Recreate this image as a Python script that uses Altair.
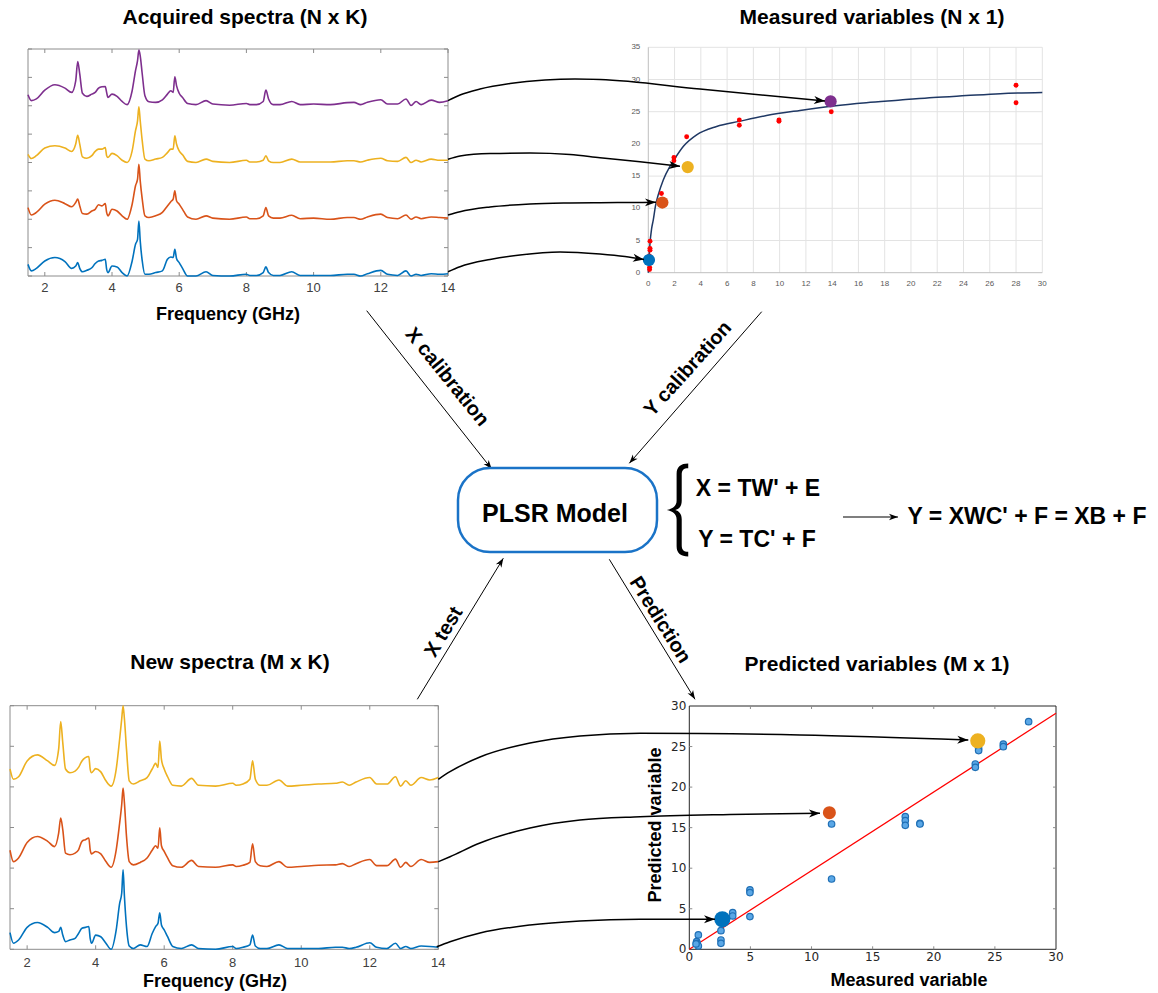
import math
import altair as alt
import pandas as pd

W, H = 1158, 993

# ---------------------------------------------------------------- data
freq_grid = [1.5, 1.6, 1.75, 2.0, 2.3, 2.6, 2.8, 2.92, 2.98, 3.04,
             3.12, 3.25, 3.4, 3.5, 3.6, 3.7, 3.8, 3.84, 3.88, 4.0,
             4.15, 4.3, 4.45, 4.6, 4.7, 4.76, 4.8, 4.84, 4.9, 4.98,
             5.1, 5.3, 5.5, 5.65, 5.75, 5.82, 5.87, 5.92, 6.0, 6.1,
             6.25, 6.5, 6.8, 7.0, 7.5, 8.0, 8.1, 8.3, 8.5, 8.58,
             8.66, 8.8, 9.0, 9.35, 9.6, 10.0, 10.5, 11.0, 11.2, 11.4,
             11.6, 12.0, 12.2, 12.5, 12.75, 12.9, 13.05, 13.2, 13.5, 13.75,
             14.0]

# acquired spectra (height above each trace's own baseline)
acq_purple = [0.39, 0.18, 0.24, 0.55, 0.74, 0.62, 0.47, 0.88, 1.56, 1.12,
              0.44, 0.33, 0.41, 0.47, 0.62, 0.67, 0.68, 0.47, 0.29, 0.41,
              0.33, 0.15, 0.04, 0.53, 1.24, 1.59, 1.96, 1.76, 1.12, 0.35,
              0.14, 0.12, 0.21, 0.41, 0.53, 0.47, 1.02, 0.71, 0.44, 0.29,
              0.08, 0.04, 0.18, 0.06, 0.02, 0.08, 0.04, 0.04, 0.15, 0.55,
              0.24, 0.04, 0.04, 0.15, 0.04, 0.06, 0.04, 0.11, 0.12, 0.04,
              0.12, 0.21, 0.06, 0.06, 0.24, 0.01, 0.15, 0.04, 0.20, 0.12,
              0.18]
acq_yellow = [0.29, 0.14, 0.24, 0.51, 0.59, 0.51, 0.39, 0.65, 0.96, 0.65,
              0.20, 0.15, 0.24, 0.39, 0.47, 0.47, 0.53, 0.24, 0.18, 0.32,
              0.24, 0.08, 0.00, 0.41, 1.12, 1.47, 1.96, 1.47, 0.76, 0.12,
              0.06, 0.12, 0.18, 0.35, 0.47, 0.47, 0.94, 0.65, 0.41, 0.27,
              0.04, 0.00, 0.12, 0.04, 0.00, 0.08, 0.02, 0.02, 0.08, 0.24,
              0.06, 0.00, 0.00, 0.12, 0.02, 0.02, 0.02, 0.06, 0.06, 0.02,
              0.08, 0.15, 0.06, 0.04, 0.18, 0.00, 0.08, 0.02, 0.12, 0.08,
              0.08]
acq_orange = [0.41, 0.15, 0.24, 0.53, 0.67, 0.55, 0.44, 0.59, 0.71, 0.47,
              0.20, 0.18, 0.29, 0.35, 0.51, 0.47, 0.55, 0.24, 0.12, 0.35,
              0.29, 0.12, 0.00, 0.53, 1.18, 1.41, 1.94, 1.35, 0.71, 0.12,
              0.06, 0.12, 0.24, 0.47, 0.62, 0.71, 1.00, 0.65, 0.53, 0.35,
              0.08, 0.00, 0.12, 0.04, 0.00, 0.08, 0.02, 0.02, 0.12, 0.41,
              0.12, 0.04, 0.04, 0.14, 0.02, 0.04, 0.00, 0.06, 0.06, 0.00,
              0.08, 0.18, 0.06, 0.02, 0.15, 0.00, 0.08, 0.02, 0.08, 0.06,
              0.04]
acq_blue = [0.41, 0.18, 0.27, 0.53, 0.65, 0.51, 0.27, 0.35, 0.47, 0.27,
            0.15, 0.20, 0.29, 0.44, 0.53, 0.55, 0.59, 0.24, 0.12, 0.35,
            0.32, 0.12, 0.00, 0.53, 1.12, 1.29, 1.94, 1.24, 0.53, 0.06,
            0.06, 0.12, 0.18, 0.59, 0.67, 0.65, 0.94, 0.62, 0.47, 0.27,
            0.00, 0.00, 0.15, 0.02, 0.00, 0.06, 0.02, 0.02, 0.12, 0.32,
            0.12, 0.02, 0.02, 0.15, 0.02, 0.02, 0.02, 0.06, 0.06, 0.00,
            0.08, 0.20, 0.06, 0.02, 0.18, 0.00, 0.06, 0.02, 0.08, 0.06,
            0.08]
acq_offsets = {"blue": 0, "orange": 2, "yellow": 4, "purple": 6}

# new spectra
new_yellow = [0.44, 0.19, 0.25, 0.64, 0.79, 0.64, 0.53, 0.93, 1.61, 1.09,
              0.44, 0.35, 0.39, 0.48, 0.64, 0.72, 0.75, 0.44, 0.35, 0.45,
              0.37, 0.15, 0.02, 0.44, 1.18, 1.67, 2.00, 1.67, 0.93, 0.15,
              0.07, 0.15, 0.23, 0.44, 0.58, 0.48, 1.13, 0.68, 0.44, 0.25,
              0.04, 0.02, 0.21, 0.04, 0.02, 0.09, 0.04, 0.07, 0.19, 0.64,
              0.19, 0.04, 0.04, 0.17, 0.02, 0.04, 0.07, 0.09, 0.12, 0.04,
              0.12, 0.23, 0.07, 0.07, 0.25, 0.02, 0.15, 0.04, 0.23, 0.17,
              0.23]
new_orange = [0.44, 0.16, 0.25, 0.63, 0.78, 0.66, 0.53, 0.86, 1.23, 0.95,
              0.37, 0.33, 0.37, 0.45, 0.66, 0.70, 0.74, 0.45, 0.35, 0.41,
              0.35, 0.16, 0.02, 0.45, 1.11, 1.56, 1.97, 1.60, 0.78, 0.16,
              0.08, 0.14, 0.25, 0.44, 0.55, 0.49, 0.99, 0.55, 0.41, 0.25,
              0.06, 0.02, 0.19, 0.04, 0.02, 0.08, 0.04, 0.07, 0.14, 0.60,
              0.16, 0.06, 0.04, 0.16, 0.02, 0.04, 0.07, 0.08, 0.11, 0.04,
              0.11, 0.21, 0.06, 0.06, 0.22, 0.02, 0.14, 0.04, 0.21, 0.14,
              0.16]
new_blue = [0.41, 0.15, 0.23, 0.54, 0.66, 0.54, 0.41, 0.44, 0.54, 0.35,
            0.19, 0.23, 0.27, 0.39, 0.52, 0.54, 0.56, 0.27, 0.15, 0.35,
            0.31, 0.15, 0.00, 0.48, 1.13, 1.38, 1.96, 1.30, 0.56, 0.08,
            0.02, 0.11, 0.07, 0.39, 0.56, 0.64, 0.90, 0.60, 0.48, 0.31,
            0.07, 0.02, 0.11, 0.02, 0.00, 0.07, 0.02, 0.05, 0.11, 0.35,
            0.08, 0.02, 0.02, 0.11, 0.02, 0.02, 0.02, 0.05, 0.05, 0.02,
            0.05, 0.16, 0.05, 0.02, 0.15, 0.02, 0.07, 0.02, 0.08, 0.07,
            0.05]
new_offsets = {"blue": 0, "orange": 2, "yellow": 4}

freq_ticks = [2, 4, 6, 8, 10, 12, 14]

# measured variables
meas_x = [0.10, 0.10, 0.13, 0.13, 0.13, 0.08, 1.00, 1.95, 1.95, 2.92,
          6.93, 6.93, 9.95, 9.95, 13.93, 28.0, 28.0]
meas_y = [0.83, 0.50, 4.90, 3.78, 3.50, 2.60, 12.3, 17.9, 17.4, 21.1,
          23.7, 22.9, 23.7, 23.5, 25.0, 29.1, 26.4]
fit_x = [0, 0.05, 0.13, 0.25, 0.38, 0.55, 0.76, 1.14, 1.65, 1.95, 2.66,
         3.68, 5.2, 6.93, 9.0, 11.55, 14.1, 16.6, 19.2, 21.7, 24.2, 26.8, 30]
fit_y = [0, 2.0, 4.6, 6.8, 8.2, 10.4, 12.1, 14.4, 16.5, 17.5, 19.6,
         21.4, 22.7, 23.5, 24.4, 25.2, 25.9, 26.4, 26.8, 27.2, 27.5, 27.8, 28.0]
meas_ticks_x = list(range(0, 31, 2))
meas_ticks_y = list(range(0, 36, 5))
meas_sel_s = ["blue", "orange", "yellow", "purple"]
meas_sel_x = [0.05, 1.07, 3.0, 13.88]
meas_sel_y = [1.97, 10.9, 16.4, 26.6]

# predicted vs measured
pred_x = [0.74, 0.60, 0.65, 0.74, 0.55, 2.59, 2.59, 2.59, 3.55, 3.55,
          4.96, 4.96, 4.96, 11.64, 11.64, 17.67, 17.67, 17.67, 18.87, 18.87,
          23.4, 23.4, 23.67, 23.67, 25.69, 25.69, 27.76]
pred_y = [1.77, 0.95, 0.74, 0.41, 0.66, 2.30, 1.15, 0.74, 4.52, 4.11,
          7.32, 6.99, 4.03, 15.45, 8.67, 16.36, 15.87, 15.29, 15.53, 15.45,
          22.85, 22.44, 24.78, 24.50, 25.30, 24.99, 28.07]
ideal_x = [0, 30]
ideal_y = [0, 29.1]
pred_ticks = [0, 5, 10, 15, 20, 25, 30]
pred_sel_s = ["blue", "orange", "yellow"]
pred_sel_x = [2.7, 11.46, 23.6]
pred_sel_y = [3.7, 16.84, 25.7]

# ---------------------------------------------------------------- style / layout
PALETTE = {"blue": "#0072BD", "orange": "#D95319", "yellow": "#EDB120", "purple": "#7E2F8E"}
color_scale = alt.Scale(domain=list(PALETTE.keys()), range=list(PALETTE.values()))
FONT = "Liberation Sans"

TL = {"x": (28, 448), "y": (276, 49)}
BL = {"x": (10, 438.3), "y": (949.3, 705.7)}
TR = {"x": (648.3, 1042.3), "y": (272.7, 47.3)}
BR = {"x": (689.3, 1056), "y": (949.3, 706)}


def sc(domain, rng):
    return alt.Scale(domain=list(domain), range=list(rng), nice=False, zero=False)


def enc_xy(xsc, ysc, xf="x", yf="y"):
    return dict(x=alt.X(f"{xf}:Q", scale=xsc, axis=None), y=alt.Y(f"{yf}:Q", scale=ysc, axis=None))


def spectra_panel(series, offsets, box, ydom, label_dy):
    xsc = sc((1.5, 14), box["x"])
    ysc = sc(ydom, box["y"])
    rows = []
    for name, vals in series.items():
        for f, v in zip(freq_grid, vals):
            rows.append({"f": f, "v": v + offsets[name], "s": name})
    df = pd.DataFrame(rows)
    lines = alt.Chart(df).mark_line(strokeWidth=1.6, interpolate="monotone").encode(
        color=alt.Color("s:N", scale=color_scale, legend=None),
        detail="s:N", **enc_xy(xsc, ysc, "f", "v"))
    frame = alt.Chart(pd.DataFrame([{"x": 1.5, "x2": 14, "y": ydom[0], "y2": ydom[1]}])).mark_rect(
        fillOpacity=0, stroke="#8c8c8c", strokeWidth=1).encode(
        x2="x2:Q", y2="y2:Q", **enc_xy(xsc, ysc))
    ux = 4 * (14 - 1.5) / (box["x"][1] - box["x"][0])
    uy = 4 * (ydom[1] - ydom[0]) / (box["y"][0] - box["y"][1])
    tk = []
    for t in freq_ticks:
        tk.append({"x": t, "x2": t, "y": ydom[0], "y2": ydom[0] + uy})
        tk.append({"x": t, "x2": t, "y": ydom[1], "y2": ydom[1] - uy})
    for t in range(ydom[0], ydom[1] + 1):
        tk.append({"x": 1.5, "x2": 1.5 + ux, "y": t, "y2": t})
        tk.append({"x": 14, "x2": 14 - ux, "y": t, "y2": t})
    ticks = alt.Chart(pd.DataFrame(tk)).mark_rule(color="#8c8c8c", strokeWidth=1).encode(
        x2="x2:Q", y2="y2:Q", **enc_xy(xsc, ysc))
    labs = alt.Chart(pd.DataFrame({"x": freq_ticks, "y": ydom[0]})).mark_text(
        dy=label_dy, fontSize=13, font=FONT, color="#404040", baseline="middle").encode(
        text=alt.Text("x:Q", format="d"), **enc_xy(xsc, ysc))
    return alt.layer(frame, ticks, lines, labs)


tl_panel = spectra_panel({"blue": acq_blue, "orange": acq_orange, "yellow": acq_yellow,
                          "purple": acq_purple}, acq_offsets, TL, (0, 8), 12)
bl_panel = spectra_panel({"blue": new_blue, "orange": new_orange, "yellow": new_yellow},
                         new_offsets, BL, (0, 6), 14)

# ---------------- measured variables panel
trx = sc((0, 30), TR["x"])
try_ = sc((0, 35), TR["y"])
gv = pd.DataFrame({"x": meas_ticks_x[1:]}).assign(y=0, y2=35)
gh = pd.DataFrame({"y": meas_ticks_y[1:]}).assign(x=0, x2=30)
tr_gv = alt.Chart(gv).mark_rule(color="#e3e3e3", strokeWidth=1).encode(y2="y2:Q", **enc_xy(trx, try_))
tr_gh = alt.Chart(gh).mark_rule(color="#e3e3e3", strokeWidth=1).encode(x2="x2:Q", **enc_xy(trx, try_))
tr_dom = alt.Chart(pd.DataFrame([{"x": 0, "x2": 0, "y": 0, "y2": 35},
                                 {"x": 0, "x2": 30, "y": 0, "y2": 0}])).mark_rule(
    color="#bfbfbf", strokeWidth=1).encode(x2="x2:Q", y2="y2:Q", **enc_xy(trx, try_))
tr_xlab = alt.Chart(pd.DataFrame({"x": meas_ticks_x, "y": 0})).mark_text(
    dy=11, fontSize=8, font=FONT, color="#595959", baseline="middle").encode(
    text=alt.Text("x:Q", format="d"), **enc_xy(trx, try_))
tr_ylab = alt.Chart(pd.DataFrame({"y": meas_ticks_y, "x": 0})).mark_text(
    dx=-8, fontSize=8, font=FONT, color="#595959", baseline="middle", align="right").encode(
    text=alt.Text("y:Q", format="d"), **enc_xy(trx, try_))
tr_fit = alt.Chart(pd.DataFrame({"x": fit_x, "y": fit_y, "k": range(len(fit_x))})).mark_line(
    color="#1f3864", strokeWidth=1.5, interpolate="monotone").encode(order="k:Q", **enc_xy(trx, try_))
tr_red = alt.Chart(pd.DataFrame({"x": meas_x, "y": meas_y})).mark_circle(
    color="#ff0000", size=24, opacity=1).encode(**enc_xy(trx, try_))
tr_sel = alt.Chart(pd.DataFrame({"x": meas_sel_x, "y": meas_sel_y, "s": meas_sel_s})).mark_circle(
    size=150, opacity=1).encode(color=alt.Color("s:N", scale=color_scale, legend=None), **enc_xy(trx, try_))
tr_panel = alt.layer(tr_gv, tr_gh, tr_dom, tr_xlab, tr_ylab, tr_fit, tr_red, tr_sel)

# ---------------- predicted variables panel
brx = sc((0, 30), BR["x"])
bry = sc((0, 30), BR["y"])
br_frame = alt.Chart(pd.DataFrame([{"x": 0, "x2": 30, "y": 0, "y2": 30}])).mark_rect(
    fillOpacity=0, stroke="#262626", strokeWidth=1).encode(x2="x2:Q", y2="y2:Q", **enc_xy(brx, bry))
bux = 3 * 30 / (BR["x"][1] - BR["x"][0])
buy = 3 * 30 / (BR["y"][0] - BR["y"][1])
btk = []
for t in pred_ticks[1:-1]:
    btk.append({"x": t, "x2": t, "y": 0, "y2": buy})
    btk.append({"x": t, "x2": t, "y": 30, "y2": 30 - buy})
    btk.append({"x": 0, "x2": bux, "y": t, "y2": t})
    btk.append({"x": 30, "x2": 30 - bux, "y": t, "y2": t})
br_ticks = alt.Chart(pd.DataFrame(btk)).mark_rule(color="#8c8c8c", strokeWidth=1).encode(
    x2="x2:Q", y2="y2:Q", **enc_xy(brx, bry))
br_xlab = alt.Chart(pd.DataFrame({"x": pred_ticks, "y": 0})).mark_text(
    dy=8, fontSize=12, font="DejaVu Sans", color="#262626", baseline="middle").encode(
    text=alt.Text("x:Q", format="d"), **enc_xy(brx, bry))
br_ylab = alt.Chart(pd.DataFrame({"y": pred_ticks, "x": 0})).mark_text(
    dx=-3, fontSize=12, font="DejaVu Sans", color="#262626", baseline="middle", align="right").encode(
    text=alt.Text("y:Q", format="d"), **enc_xy(brx, bry))
br_line = alt.Chart(pd.DataFrame({"x": ideal_x, "y": ideal_y})).mark_line(
    color="#ff0000", strokeWidth=1.3).encode(**enc_xy(brx, bry))
br_pts = alt.Chart(pd.DataFrame({"x": pred_x, "y": pred_y})).mark_circle(
    size=42, color="#5aa7e6", stroke="#1f6fb5", strokeWidth=1.2, opacity=1).encode(**enc_xy(brx, bry))
br_sel = alt.Chart(pd.DataFrame({"x": pred_sel_x, "y": pred_sel_y, "s": pred_sel_s,
                                 "z": [260, 170, 230]})).mark_circle(opacity=1).encode(
    color=alt.Color("s:N", scale=color_scale, legend=None),
    size=alt.Size("z:Q", scale=None), **enc_xy(brx, bry))
br_panel = alt.layer(br_frame, br_ticks, br_xlab, br_ylab, br_line, br_pts, br_sel)

# ---------------- diagram annotations (canvas in pixels)
csx = sc((0, W), (0, W))
csy = sc((0, H), (0, H))

labels = [
    ("Acquired spectra (N x K)", 245, 18, 21, 0),
    ("Measured variables (N x 1)", 872, 18, 21, 0),
    ("New spectra (M x K)", 230, 663, 21, 0),
    ("Predicted variables (M x 1)", 877, 665, 21, 0),
    ("Frequency (GHz)", 228, 315, 18, 0),
    ("Frequency (GHz)", 215, 982, 18, 0),
    ("Measured variable", 909, 981, 18, 0),
    ("Predicted variable", 656, 825, 18, 270),
    ("X calibration", 447, 377, 20, 51),
    ("Y calibration", 688, 369, 20, 312),
    ("X test", 444, 632, 20, 301),
    ("Prediction", 660, 620, 20, 58),
    ("PLSR Model", 555, 514, 25, 0),
    ("X = TW' + E", 758, 489, 23, 0),
    ("Y = TC' + F", 757, 540, 23, 0),
    ("Y = XWC' + F = XB + F", 1027, 517, 23, 0),
]
lab_df = pd.DataFrame(labels, columns=["t", "x", "y", "fs", "ang"])

arrows = [
    # curved connectors (spectrum -> point)
    ([(448, 100.7), (460, 95), (480, 89), (510, 83.5), (545, 80), (575, 79), (600, 79.5),
      (700, 89), (825, 101)], 1.5, 11),
    ([(448, 159.3), (460, 156), (490, 153.5), (530, 153), (570, 154.5), (600, 157.7),
      (640, 161.7), (680, 166.3)], 1.5, 11),
    ([(448, 215), (460, 211.7), (490, 207), (530, 204), (570, 203), (600, 202.7),
      (630, 202.5), (656, 202.3)], 1.5, 11),
    ([(448, 271.7), (460, 266.7), (490, 259.5), (520, 255), (560, 252), (600, 254),
      (625, 256.5), (644, 259.5)], 1.5, 11),
    ([(438.3, 779.3), (450, 771.7), (480, 757), (530, 743), (580, 736), (640, 733.3),
      (800, 735), (968.3, 740)], 1.5, 11),
    ([(438.3, 861.7), (450, 856.7), (480, 843), (530, 828), (580, 820), (640, 816.7),
      (730, 814.5), (820, 813.3)], 1.5, 11),
    ([(436.7, 946.7), (450, 941.7), (480, 933), (530, 925), (580, 921), (640, 919.3),
      (715, 919.3)], 1.5, 11),
    # straight flow arrows
    ([(366.7, 310.7), (491.7, 469)], 1.0, 9),
    ([(761.7, 311.7), (629.3, 463.3)], 1.0, 9),
    ([(417.3, 699.3), (503.3, 558.3)], 1.0, 9),
    ([(609.3, 559.3), (695, 699.3)], 1.0, 9),
    ([(843, 517), (898, 517)], 1.2, 9),
]
line_rows, head_rows = [], []
for i, (pts, w, L) in enumerate(arrows):
    for k, (x, y) in enumerate(pts):
        line_rows.append({"id": i, "k": k, "x": x, "y": y, "w": w})
    (x1, y1), (x2, y2) = pts[-2], pts[-1]
    head_rows.append({"x": x2, "y": y2,
                      "a": math.degrees(math.atan2(y2 - y1, x2 - x1)) % 360,
                      "s": (2 * L) ** 2})

ARROW_PATH = "M0,0 L-1,-0.36 L-0.72,0 L-1,0.36 Z"
BRACE_PATH = ("M0.22,-1 C0.06,-1 -0.03,-0.93 -0.03,-0.78 L-0.03,-0.2 "
              "C-0.03,-0.08 -0.12,-0.03 -0.24,0 C-0.12,0.03 -0.03,0.08 -0.03,0.2 "
              "L-0.03,0.78 C-0.03,0.93 0.06,1 0.22,1 L0.22,0.9 "
              "C0.12,0.9 0.08,0.86 0.08,0.76 L0.08,0.2 "
              "C0.08,0.08 0.02,0.02 -0.06,0 C0.02,-0.02 0.08,-0.08 0.08,-0.2 "
              "L0.08,-0.76 C0.08,-0.86 0.12,-0.9 0.22,-0.9 Z")

ann_lines = alt.Chart(pd.DataFrame(line_rows)).mark_line(
    color="black", interpolate="monotone").encode(
    detail="id:N", order="k:Q", strokeWidth=alt.StrokeWidth("w:Q", scale=None), **enc_xy(csx, csy))
ann_heads = alt.Chart(pd.DataFrame(head_rows)).mark_point(
    shape=ARROW_PATH, filled=True, color="black", opacity=1, strokeWidth=0).encode(
    angle=alt.Angle("a:Q", scale=None), size=alt.Size("s:Q", scale=None), **enc_xy(csx, csy))
box = alt.Chart(pd.DataFrame([{"x": 458, "x2": 657, "y": 468, "y2": 552}])).mark_rect(
    cornerRadius=32, fill="white", stroke="#1a73c7", strokeWidth=2.5).encode(
    x2="x2:Q", y2="y2:Q", **enc_xy(csx, csy))
brace = alt.Chart(pd.DataFrame([{"x": 678, "y": 510}])).mark_point(
    shape=BRACE_PATH, filled=True, color="black", opacity=1, strokeWidth=0, size=8649).encode(
    **enc_xy(csx, csy))
texts = alt.Chart(lab_df).mark_text(
    font=FONT, fontWeight="bold", color="black", align="center", baseline="middle").encode(
    text="t:N", size=alt.Size("fs:Q", scale=None), angle=alt.Angle("ang:Q", scale=None),
    **enc_xy(csx, csy))
annot = alt.layer(ann_lines, ann_heads, box, brace, texts)

chart = alt.layer(tl_panel, bl_panel, tr_panel, br_panel, annot).resolve_scale(
    x="independent", y="independent"
).properties(
    width=W, height=H, padding=0, background="white",
    autosize=alt.AutoSizeParams(type="none"),
).configure_view(strokeWidth=0)

chart.save("out.html", embed_options={"renderer": "svg", "actions": False})
